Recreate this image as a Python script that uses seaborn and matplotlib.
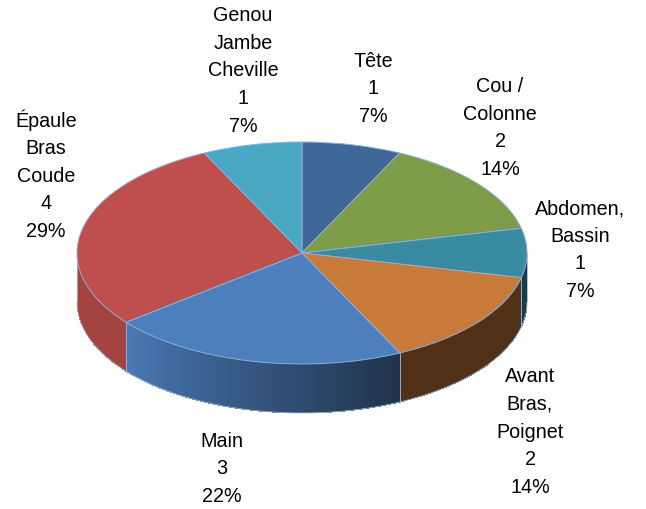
import matplotlib
matplotlib.use("Agg")
import matplotlib.pyplot as plt
import numpy as np
import seaborn as sns
from matplotlib.colors import to_rgb

# data (clockwise from 12 o'clock)
categories = ["Tête", "Cou /\nColonne", "Abdomen,\nBassin", "Avant\nBras,\nPoignet",
              "Main", "Épaule\nBras\nCoude", "Genou\nJambe\nCheville"]
counts = [1, 2, 1, 2, 3, 4, 1]
pct_labels = ["7%", "14%", "7%", "14%", "22%", "29%", "7%"]

# style
top_colors = ["#3F6898", "#7E9B48", "#398BA2", "#C87B38", "#4D7FBD", "#BE4F4C", "#4AA8C4"]
# side shading factor at start / end of each slice (clockwise)
side_shade = [(0.5, 0.5), (0.5, 0.5), (0.45, 0.42), (0.4, 0.4), (0.4, 0.95),
              (0.86, 0.86), (0.5, 0.5)]
edge_col = "#8EAEDA"
# label centres in pixels (x, y from top)
label_px = [(373, 89), (500, 128), (580, 250), (530, 432), (222, 469), (46, 175), (243, 71)]

W, H = 646, 509
CX, CY = 302, 253      # pie centre, px
RX, RY = 225, 111      # ellipse radii, px
DEPTH = 49 / RY        # side thickness in data units

sns.set_theme(style="white")
plt.rcParams["font.family"] = ["Liberation Sans", "DejaVu Sans"]

fig = plt.figure(figsize=(W / 100, H / 100), dpi=100)
ax = fig.add_axes([0, 0, 1, 1])

total = sum(counts)
bounds = np.cumsum([0] + counts) / total * 360.0   # clockwise degrees from top


def side_patch(t_hi, t_lo, color):
    t = np.radians(np.linspace(t_hi, t_lo, 8))
    xs = np.concatenate([np.cos(t), np.cos(t[::-1])])
    ys = np.concatenate([np.sin(t), np.sin(t[::-1]) - DEPTH])
    ax.fill(xs, ys, color=color, lw=0, antialiased=False, zorder=1)


# side walls (only the front half, standard angles between -180 and 0)
for i in range(len(counts)):
    a0 = 90 - bounds[i]
    a1 = 90 - bounds[i + 1]
    lo, hi = max(a1, -180), min(a0, 0)
    if lo >= hi:
        continue
    base = np.array(to_rgb(top_colors[i]))
    s0, s1 = side_shade[i]
    if s0 == s1:
        side_patch(hi, lo, np.clip(base * s0, 0, 1))
    else:
        n = max(2, int((hi - lo) / 1.0))
        edges = np.linspace(hi, lo, n + 1)
        for k in range(n):
            frac = (90 - (edges[k] + edges[k + 1]) / 2 - bounds[i]) / (bounds[i + 1] - bounds[i])
            f = s0 + (s1 - s0) * frac
            side_patch(edges[k] + 0.4 if k else edges[k], edges[k + 1], np.clip(base * f, 0, 1))
    # vertical edge lines at slice boundaries on the front
    for ang in (a0, a1):
        if -180 < ang < 0:
            r = np.radians(ang)
            ax.plot([np.cos(r)] * 2, [np.sin(r), np.sin(r) - DEPTH], color=edge_col, lw=0.7, zorder=2)

# outline of the bottom and sides
t = np.radians(np.linspace(-180, 0, 200))
ax.plot(np.cos(t), np.sin(t) - DEPTH, color="#9DB6D8", lw=0.6, zorder=2)
for x in (-1, 1):
    ax.plot([x, x], [0, -DEPTH], color="#9DB6D8", lw=0.6, zorder=2)

# top face
wedges, _ = ax.pie(counts, colors=top_colors, startangle=90, counterclock=False,
                   wedgeprops={"edgecolor": edge_col, "linewidth": 0.7})
for w in wedges:
    w.set_zorder(3)

# labels
for name, c, p, (px, py) in zip(categories, counts, pct_labels, label_px):
    ax.text((px - CX) / RX, (CY - py) / RY, f"{name}\n{c}\n{p}", ha="center", va="center",
            fontsize=14.2, linespacing=1.57, color="#000000", zorder=4)

ax.set_aspect("auto")
ax.set_xlim(-CX / RX, (W - CX) / RX)
ax.set_ylim(-(H - CY) / RY, CY / RY)
ax.axis("off")

fig.savefig("out.png", dpi=100, facecolor="white")
